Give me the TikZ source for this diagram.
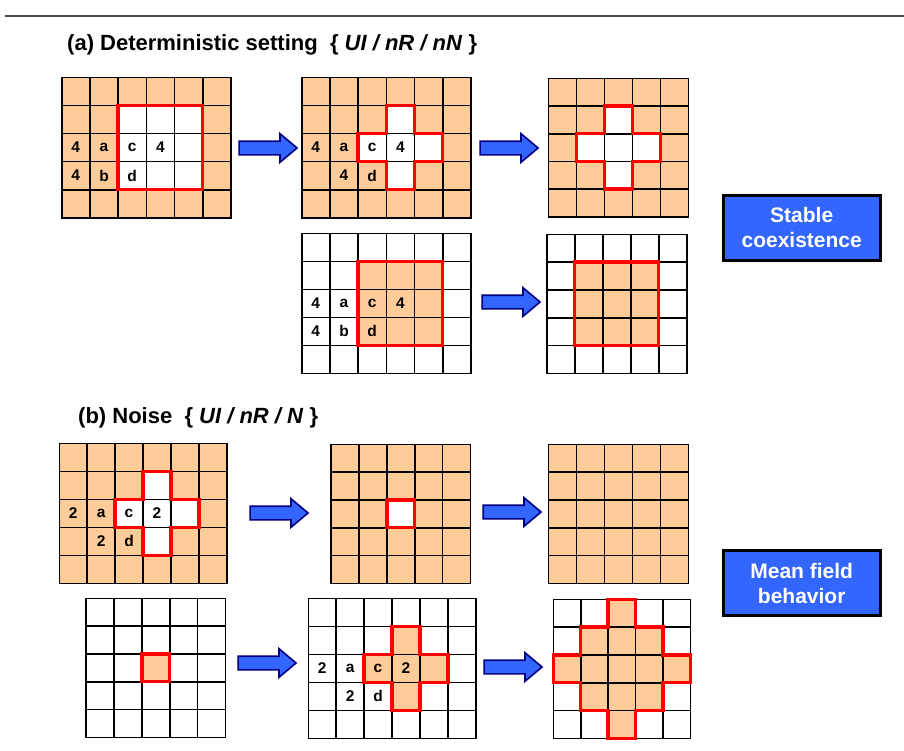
\documentclass[tikz,border=0pt]{standalone}
\usepackage{fontspec}
\setmainfont{Liberation Sans}
\usetikzlibrary{shapes.arrows}

\definecolor{peach}{HTML}{FFCC99}
\definecolor{boxblue}{HTML}{3366FF}
\definecolor{arrowedge}{HTML}{000080}
\definecolor{rulegray}{HTML}{4D4D4D}

\newcommand{\cellgrid}[2]{%
  \foreach \i in {0,...,#1} \draw[gridline] (\i,0) -- (\i,#2);
  \foreach \j in {0,...,#2} \draw[gridline] (0,\j) -- (#1,\j);}

\tikzset{
  gridline/.style={black, line width=1.6pt, line cap=rect},
  redline/.style={red, line width=3.4pt, line join=miter},
  lbl/.style={font=\fontsize{15.5}{15.5}\selectfont\bfseries, inner sep=0pt},
  title/.style={font=\fontsize{22}{22}\selectfont\bfseries, anchor=west, inner sep=0pt},
  blockarrow/.style={single arrow, draw=arrowedge, fill=boxblue, line width=1.6pt,
    minimum height=58pt, inner xsep=0pt, inner ysep=6pt, single arrow head extend=7.5pt,
    single arrow tip angle=80},
  resultbox/.style={draw=black, fill=boxblue, line width=3pt, text=white, align=center,
    font=\fontsize{21}{25}\selectfont\bfseries, minimum width=157pt, minimum height=65pt},
}

\begin{document}
\begin{tikzpicture}[x=1pt, y=-1pt]
  \useasboundingbox (0,0) rectangle (904,750);
  \draw[rulegray, line width=1.5pt] (5,16) -- (904,16);

  % (a) deterministic setting
  \node[title] (ttla) at (67,45) {(a) Deterministic setting~~\{ \textit{UI / nR / nN} \}};

  \begin{scope}[shift={(61.7,77.3)}, x=28.2pt, y=-28.1pt]
    \fill[peach] (0,0) rectangle (6,5);
    \fill[white] (2,1) rectangle (5,4);
    \cellgrid{6}{5}
    \draw[redline] (2,1) rectangle (5,4);
    \node[lbl] (a1n1) at (0.5,2.5) {4};
    \node[lbl] (a1a) at (1.5,2.5) {a};
    \node[lbl] (a1c) at (2.5,2.5) {c};
    \node[lbl] (a1n2) at (3.5,2.5) {4};
    \node[lbl] (a1n3) at (0.5,3.5) {4};
    \node[lbl] (a1b) at (1.5,3.5) {b};
    \node[lbl] (a1d) at (2.5,3.5) {d};
  \end{scope}

  \begin{scope}[shift={(301.7,77.3)}, x=28.2pt, y=-28.1pt]
    \fill[peach] (0,0) rectangle (6,5);
    \fill[white] (3,1) -- (4,1) -- (4,2) -- (5,2) -- (5,3) -- (4,3) -- (4,4) -- (3,4)
      -- (3,3) -- (2,3) -- (2,2) -- (3,2) -- cycle;
    \cellgrid{6}{5}
    \draw[redline] (3,1) -- (4,1) -- (4,2) -- (5,2) -- (5,3) -- (4,3) -- (4,4) -- (3,4)
      -- (3,3) -- (2,3) -- (2,2) -- (3,2) -- cycle;
    \node[lbl] (a2n1) at (0.5,2.5) {4};
    \node[lbl] (a2a) at (1.5,2.5) {a};
    \node[lbl] (a2c) at (2.5,2.5) {c};
    \node[lbl] (a2n2) at (3.5,2.5) {4};
    \node[lbl] (a2n3) at (1.5,3.5) {4};
    \node[lbl] (a2d) at (2.5,3.5) {d};
  \end{scope}

  \begin{scope}[shift={(548.3,78.3)}, x=28pt, y=-27.7pt]
    \fill[peach] (0,0) rectangle (5,5);
    \fill[white] (2,1) -- (3,1) -- (3,2) -- (4,2) -- (4,3) -- (3,3) -- (3,4) -- (2,4)
      -- (2,3) -- (1,3) -- (1,2) -- (2,2) -- cycle;
    \cellgrid{5}{5}
    \draw[redline] (2,1) -- (3,1) -- (3,2) -- (4,2) -- (4,3) -- (3,3) -- (3,4) -- (2,4)
      -- (2,3) -- (1,3) -- (1,2) -- (2,2) -- cycle;
  \end{scope}

  \begin{scope}[shift={(301.7,233.3)}, x=28.2pt, y=-28pt]
    \fill[peach] (2,1) rectangle (5,4);
    \cellgrid{6}{5}
    \draw[redline] (2,1) rectangle (5,4);
    \node[lbl] (a4n1) at (0.5,2.5) {4};
    \node[lbl] (a4a) at (1.5,2.5) {a};
    \node[lbl] (a4c) at (2.5,2.5) {c};
    \node[lbl] (a4n2) at (3.5,2.5) {4};
    \node[lbl] (a4n3) at (0.5,3.5) {4};
    \node[lbl] (a4b) at (1.5,3.5) {b};
    \node[lbl] (a4d) at (2.5,3.5) {d};
  \end{scope}

  \begin{scope}[shift={(546.7,234.3)}, x=28pt, y=-27.8pt]
    \fill[peach] (1,1) rectangle (4,4);
    \cellgrid{5}{5}
    \draw[redline] (1,1) rectangle (4,4);
  \end{scope}

  \node[blockarrow] (arra1) at (264,148) {};
  \node[blockarrow] (arra2) at (505,148) {};
  \node[blockarrow] (arra3) at (507,302) {};

  \node[resultbox] (stable) at (801.7,227.5) {Stable\\coexistence};

  % (b) noise
  \node[title] (ttlb) at (78,418) {(b) Noise~~\{ \textit{UI / nR / N} \}};

  \begin{scope}[shift={(59.3,443.3)}, x=27.9pt, y=-28pt]
    \fill[peach] (0,0) rectangle (6,5);
    \fill[white] (3,1) -- (4,1) -- (4,2) -- (5,2) -- (5,3) -- (4,3) -- (4,4) -- (3,4)
      -- (3,3) -- (2,3) -- (2,2) -- (3,2) -- cycle;
    \cellgrid{6}{5}
    \draw[redline] (3,1) -- (4,1) -- (4,2) -- (5,2) -- (5,3) -- (4,3) -- (4,4) -- (3,4)
      -- (3,3) -- (2,3) -- (2,2) -- (3,2) -- cycle;
    \node[lbl] (b1n1) at (0.5,2.5) {2};
    \node[lbl] (b1a) at (1.5,2.5) {a};
    \node[lbl] (b1c) at (2.5,2.5) {c};
    \node[lbl] (b1n2) at (3.5,2.5) {2};
    \node[lbl] (b1n3) at (1.5,3.5) {2};
    \node[lbl] (b1d) at (2.5,3.5) {d};
  \end{scope}

  \begin{scope}[shift={(331,444.3)}, x=27.9pt, y=-27.8pt]
    \fill[peach] (0,0) rectangle (5,5);
    \fill[white] (2,2) rectangle (3,3);
    \cellgrid{5}{5}
    \draw[redline] (2,2) rectangle (3,3);
  \end{scope}

  \begin{scope}[shift={(548.3,444.3)}, x=28pt, y=-27.8pt]
    \fill[peach] (0,0) rectangle (5,5);
    \cellgrid{5}{5}
  \end{scope}

  \begin{scope}[shift={(86,598.3)}, x=27.9pt, y=-27.8pt]
    \fill[peach] (2,2) rectangle (3,3);
    \cellgrid{5}{5}
    \draw[redline] (2,2) rectangle (3,3);
  \end{scope}

  \begin{scope}[shift={(308.3,598.3)}, x=27.9pt, y=-28pt]
    \fill[peach] (3,1) -- (4,1) -- (4,2) -- (5,2) -- (5,3) -- (4,3) -- (4,4) -- (3,4)
      -- (3,3) -- (2,3) -- (2,2) -- (3,2) -- cycle;
    \cellgrid{6}{5}
    \draw[redline] (3,1) -- (4,1) -- (4,2) -- (5,2) -- (5,3) -- (4,3) -- (4,4) -- (3,4)
      -- (3,3) -- (2,3) -- (2,2) -- (3,2) -- cycle;
    \node[lbl] (b5n1) at (0.5,2.5) {2};
    \node[lbl] (b5a) at (1.5,2.5) {a};
    \node[lbl] (b5c) at (2.5,2.5) {c};
    \node[lbl] (b5n2) at (3.5,2.5) {2};
    \node[lbl] (b5n3) at (1.5,3.5) {2};
    \node[lbl] (b5d) at (2.5,3.5) {d};
  \end{scope}

  \begin{scope}[shift={(553.3,599.3)}, x=27.4pt, y=-27.8pt]
    \fill[peach] (2,0) -- (3,0) -- (3,1) -- (4,1) -- (4,2) -- (5,2) -- (5,3) -- (4,3)
      -- (4,4) -- (3,4) -- (3,5) -- (2,5) -- (2,4) -- (1,4) -- (1,3) -- (0,3) -- (0,2)
      -- (1,2) -- (1,1) -- (2,1) -- cycle;
    \cellgrid{5}{5}
    \draw[redline] (2,0) -- (3,0) -- (3,1) -- (4,1) -- (4,2) -- (5,2) -- (5,3) -- (4,3)
      -- (4,4) -- (3,4) -- (3,5) -- (2,5) -- (2,4) -- (1,4) -- (1,3) -- (0,3) -- (0,2)
      -- (1,2) -- (1,1) -- (2,1) -- cycle;
  \end{scope}

  \node[blockarrow] (arrb1) at (275,513) {};
  \node[blockarrow] (arrb2) at (508,512) {};
  \node[blockarrow] (arrb3) at (263,663) {};
  \node[blockarrow] (arrb4) at (509,667) {};

  \node[resultbox] (meanfield) at (801.7,583.3) {Mean field\\behavior};
\end{tikzpicture}
\end{document}
